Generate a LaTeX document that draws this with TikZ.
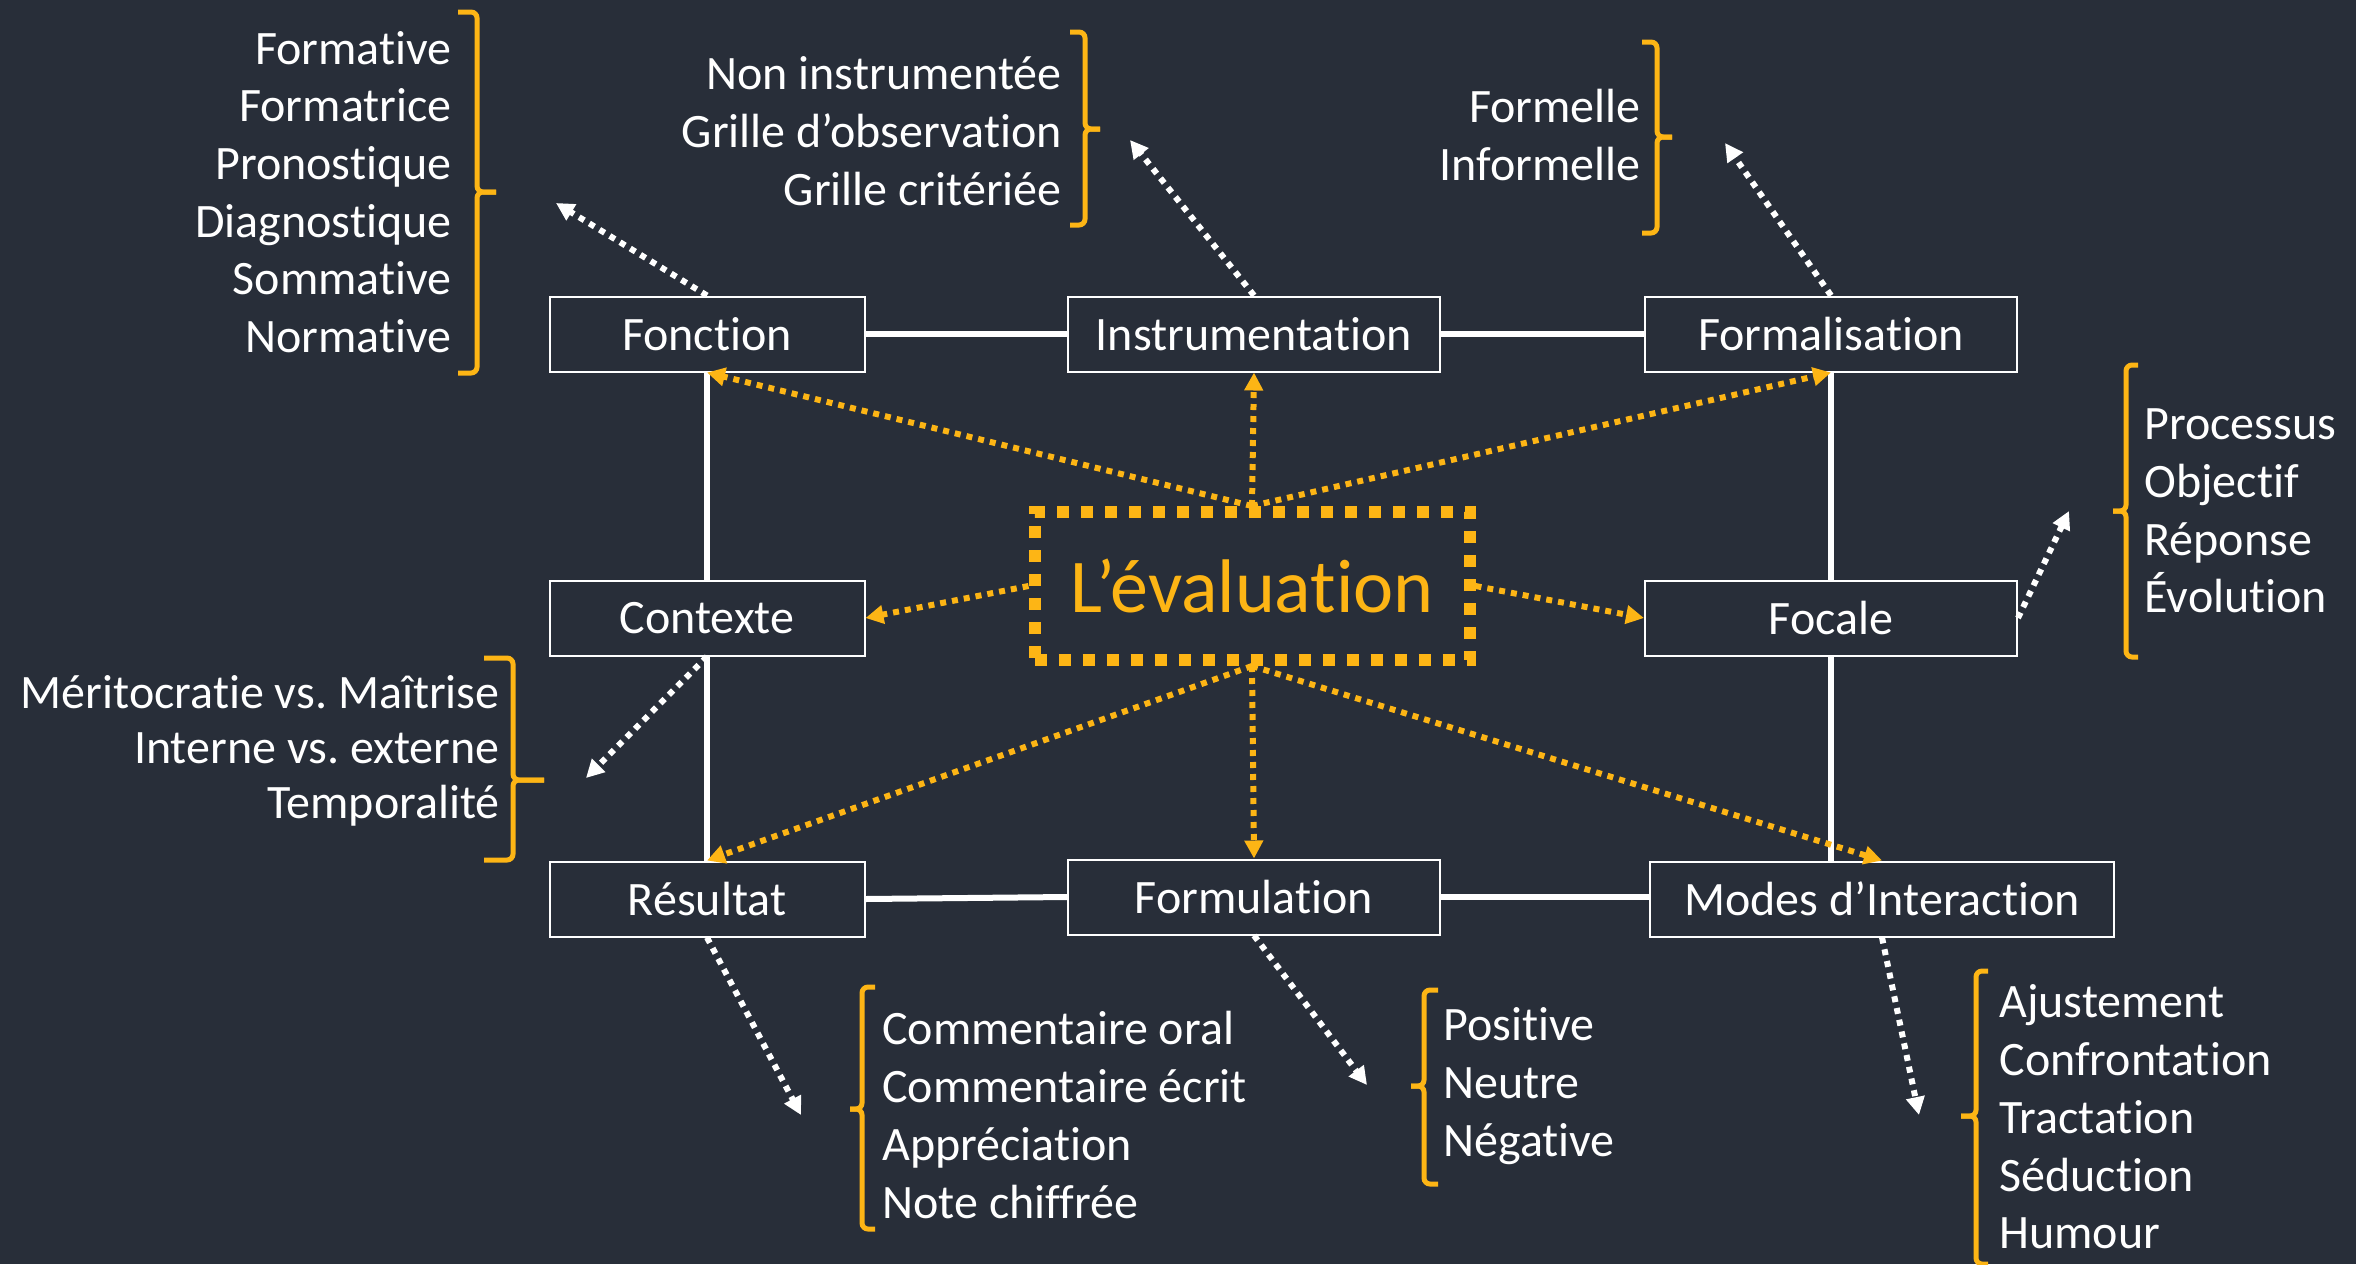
\documentclass[tikz,border=0pt]{standalone}
\usepackage{fontspec}
\setmainfont{Carlito}[RawFeature=-liga]
\usetikzlibrary{arrows.meta,calc}
\definecolor{bg}{RGB}{40,46,57}
\definecolor{gold}{RGB}{253,181,21}
\tikzstyle{box}=[draw=white,line width=1pt,text=white,minimum height=37.5pt,inner sep=0pt,font=\fontsize{24}{28}\selectfont]
\tikzstyle{link}=[white,line width=3pt]
\tikzstyle{evalbox}=[draw=gold,line width=6pt,dash pattern=on 6pt off 6pt,text=gold,minimum width=217.5pt,minimum height=74pt,font=\fontsize{38}{40}\selectfont]
\tikzstyle{goldarrow}=[gold,line width=3pt,dash pattern=on 3pt off 3pt,-{Triangle[length=9pt,width=9pt]}]
\tikzstyle{whitearrow}=[white,line width=3pt,dash pattern=on 3pt off 3pt,-{Triangle[length=9pt,width=9pt]}]
\tikzstyle{listtext}=[text=white,inner sep=0pt,font=\fontsize{24}{28.85}\selectfont]
\tikzstyle{bracestyle}=[gold,line width=2.5pt,rounded corners=3pt]
\newcommand{\listbrace}[6]{% hook x, stem x, tip x, top y, tip y, bottom y
  \draw[bracestyle] (#1,#4) -- (#2,#4) -- (#2,#5) -- (#3,#5);
  \draw[bracestyle] (#3,#5) -- (#2,#5) -- (#2,#6) -- (#1,#6);
}
\frenchspacing

\begin{document}
\begin{tikzpicture}[x=0.5pt,y=-0.5pt]
	\fill[bg] (0,0) rectangle (2356,1264);
	\useasboundingbox (0,0) rectangle (2356,1264);
	% the eight aspects
	\node[box,minimum width=157.5pt] (fonction) at (707,334) {Fonction};
	\node[box,minimum width=186pt] (instrum) at (1254,334) {Instrumentation};
	\node[box,minimum width=186pt] (formal) at (1831,334) {Formalisation};
	\node[box,minimum width=157.5pt] (contexte) at (707,618) {Contexte};
	\node[box,minimum width=186pt] (focale) at (1831,618) {Focale};
	\node[box,minimum width=157.5pt] (resultat) at (707,899) {Résultat};
	\node[box,minimum width=186pt] (formul) at (1254,897) {Formulation};
	\node[box,minimum width=232pt] (modes) at (1882,899) {Modes d’Interaction};
	% frame
	\draw[link] (fonction.east) -- (instrum.west);
	\draw[link] (instrum.east) -- (formal.west);
	\draw[link] (fonction.south) -- (contexte.north);
	\draw[link] (contexte.south) -- (resultat.north);
	\draw[link] (formal.south) -- (focale.north);
	\draw[link] (focale.south) -- (focale.south |- modes.north);
	\draw[link] (resultat.east) -- (formul.west);
	\draw[link] (formul.east) -- (formul.east -| modes.west);
	% centre
	\node[evalbox] (eval) at (1252,586) {L’évaluation};
	\foreach \target in {fonction,instrum,formal}
		\draw[goldarrow] (eval.north) -- (\target.south);
	\foreach \target in {resultat,formul,modes}
		\draw[goldarrow] (eval.south) -- (\target.north);
	\draw[goldarrow] (eval.west) -- (contexte.east);
	\draw[goldarrow] (eval.east) -- (focale.west);
	% free ends of the white arrows
	\coordinate (fonctionend) at (556,203);
	\coordinate (instrumend) at (1130,140);
	\coordinate (formalend) at (1725,143);
	\coordinate (contexteend) at (586,778);
	\coordinate (focaleend) at (2069,511);
	\coordinate (resultatend) at (801,1115);
	\coordinate (formulend) at (1367,1085);
	\coordinate (modesend) at (1919,1115);
	\draw[whitearrow] (fonction.north) -- (fonctionend);
	\draw[whitearrow] (instrum.north) -- (instrumend);
	\draw[whitearrow] (formal.north) -- (formalend);
	\draw[whitearrow] (contexte.south) -- (contexteend);
	\draw[whitearrow] (focale.east) -- (focaleend);
	\draw[whitearrow] (resultat.south) -- (resultatend);
	\draw[whitearrow] (formul.south) -- (formulend);
	\draw[whitearrow] (modes.south) -- (modesend);
	% lists
	\node[listtext,anchor=east,align=right] (fonctionlist) at (452,192) {Formative\\Formatrice\\Pronostique\\Diagnostique\\Sommative\\Normative};
	\listbrace{458}{477}{496}{12}{192}{373}
	\node[listtext,anchor=east,align=right] (instrumlist) at (1062,131) {Non instrumentée\\Grille d’observation\\Grille critériée};
	\listbrace{1070}{1085}{1100}{32}{129}{225}
	\node[listtext,anchor=east,align=right] (formallist) at (1641,135) {Formelle\\Informelle};
	\listbrace{1642}{1657}{1672}{42}{137}{233}
	\node[listtext,anchor=west,align=left] (focalelist) at (2144,511) {Processus\\Objectif\\Réponse\\Évolution};
	\listbrace{2138}{2126}{2113}{365}{511}{657}
	\node[listtext,anchor=east,align=right,font=\fontsize{24}{27.5}\selectfont] (contextelist) at (500,751) {Méritocratie vs. Maîtrise\\Interne vs. externe\\Temporalité};
	\listbrace{484}{513}{544}{658}{780}{860}
	\node[listtext,anchor=west,align=left] (resultatlist) at (882,1115) {Commentaire oral\\Commentaire écrit\\Appréciation\\Note chiffrée};
	\listbrace{875}{862}{850}{987}{1109}{1229}
	\node[listtext,anchor=west,align=left] (formullist) at (1443,1086) {Positive\\Neutre\\Négative};
	\listbrace{1438}{1424}{1411}{990}{1086}{1184}
	\node[listtext,anchor=west,align=left] (modeslist) at (1999,1117) {Ajustement\\Confrontation\\Tractation\\Séduction\\Humour};
	\listbrace{1988}{1976}{1961}{971}{1116}{1264}
\end{tikzpicture}
\end{document}
